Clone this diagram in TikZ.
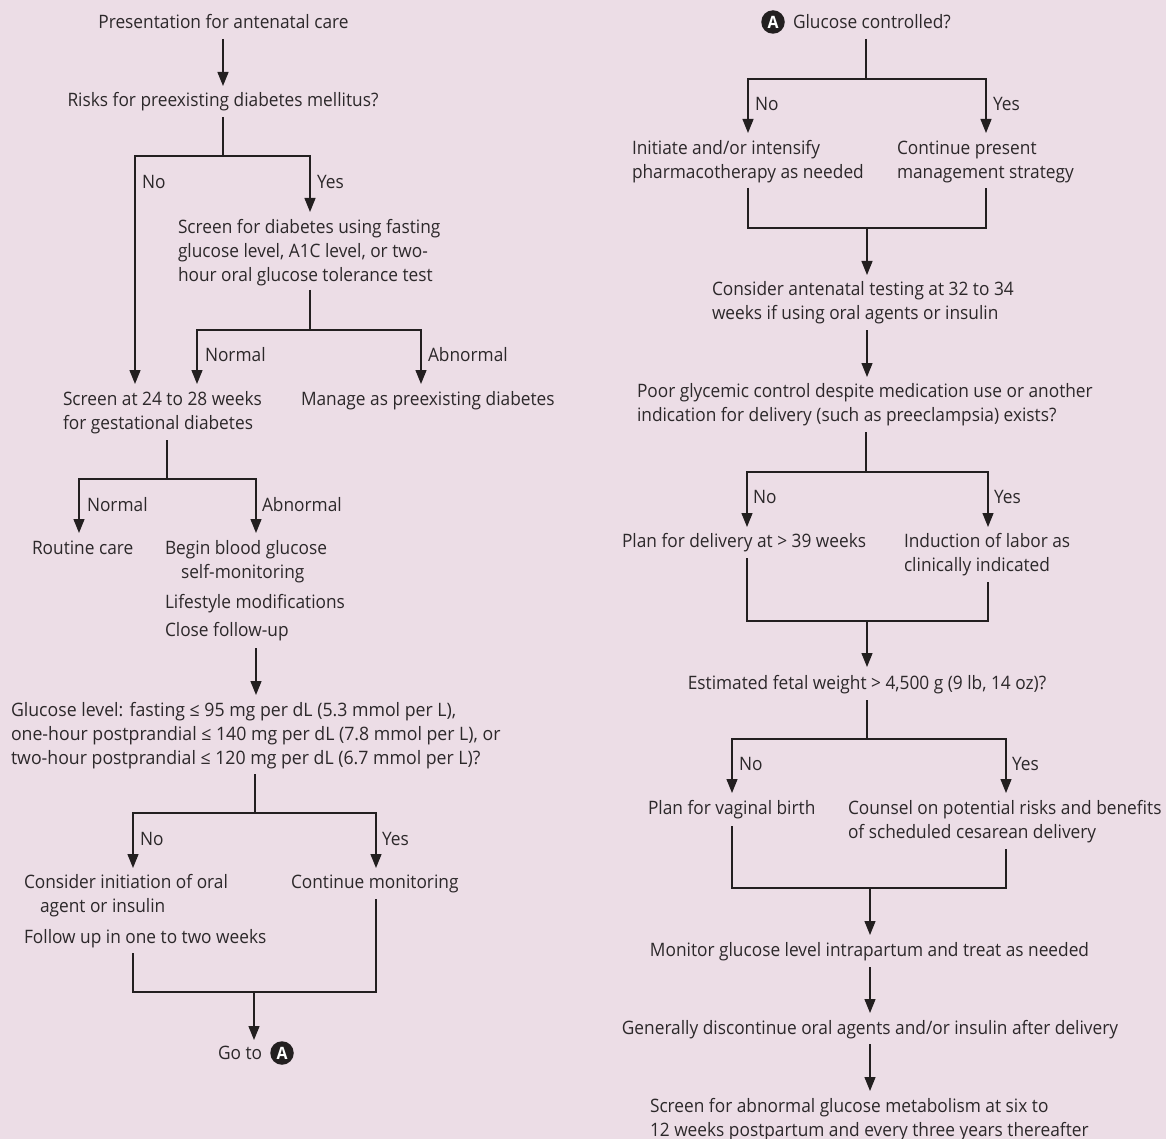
\documentclass[tikz,border=0pt]{standalone}
\usepackage{fontspec}
\setmainfont[FakeStretch=0.935]{Open Sans}
\newfontfamily\widefont[FakeStretch=0.957]{Open Sans}
\usetikzlibrary{arrows.meta}
\definecolor{bgc}{RGB}{236,221,230}
\definecolor{txc}{RGB}{44,40,42}
\definecolor{lnc}{RGB}{35,31,32}
\tikzset{
  txt/.style={inner sep=0pt, outer sep=0pt, text=txc, align=left,
              font=\fontsize{18.5}{24}\selectfont},
  ln/.style={draw=lnc, line width=1.3pt},
  arr/.style={ln, -{Triangle[length=14pt,width=11pt]}},
  twoarr/.style={ln, {Triangle[length=14pt,width=11pt]}-{Triangle[length=14pt,width=11pt]}},
  circA/.style={circle, fill=lnc, text=white, inner sep=0pt, minimum size=23.5pt,
                font=\fontsize{17}{17}\selectfont\bfseries}
}
\begin{document}
\begin{tikzpicture}[x=1pt,y=-1pt]
\fill[bgc] (0,0) rectangle (1166,1139);
\useasboundingbox (0,0) rectangle (1166,1139);

% ---------------- LEFT COLUMN ----------------
\node[txt, anchor=base] (t1) at (223.5,28.6) {Presentation for antenatal care};
\node[txt, anchor=base] (t2) at (223,106.6) {Risks for preexisting diabetes mellitus?};
\node[txt, anchor=base west] (lno1) at (142,188.6) {No};
\node[txt, anchor=base west] (lyes1) at (317,188.6) {Yes};
\node[txt, anchor=north west] (t3) at (178,219.5)
  {Screen for diabetes using fasting\\glucose level, A1C level, or two-\\hour oral glucose tolerance test};
\node[txt, anchor=base west] (lnor2) at (205,361.6) {Normal};
\node[txt, anchor=base west] (labn2) at (428,361.6) {Abnormal};
\node[txt, anchor=north west] (t4) at (63,391.5) {Screen at 24 to 28 weeks\\for gestational diabetes};
\node[txt, anchor=base west] (t5) at (301,405.6) {Manage as preexisting diabetes};
\node[txt, anchor=base west] (lnor3) at (87,511.6) {Normal};
\node[txt, anchor=base west] (labn3) at (262,511.6) {Abnormal};
\node[txt, anchor=base west] (t6) at (32,554.6) {Routine care};
\node[txt, anchor=north west] (t7) at (165,540.5)
  {Begin blood glucose\\\hspace*{16pt}self-monitoring\\[6pt]Lifestyle modifications\\[4pt]Close follow-up};
\node[txt, anchor=north west, font=\widefont\fontsize{18.5}{24}\selectfont] (t8) at (11,702.5)
  {Glucose level: fasting ≤ 95 mg per dL (5.3 mmol per L),\\one-hour postprandial ≤ 140 mg per dL (7.8 mmol per L), or\\two-hour postprandial ≤ 120 mg per dL (6.7 mmol per L)?};
\node[txt, anchor=base west] (lno4) at (140,845.6) {No};
\node[txt, anchor=base west] (lyes4) at (382,845.6) {Yes};
\node[txt, anchor=north west] (t9) at (24,874.5)
  {Consider initiation of oral\\\hspace*{16pt}agent or insulin\\[7pt]Follow up in one to two weeks};
\node[txt, anchor=base west] (t10) at (291,888.6) {Continue monitoring};
\node[txt, anchor=base west] (t11) at (218,1059.6) {Go to};
\node[circA] (goA) at (282,1053) {A};

% connectors left
\coordinate (a1s) at (223,39);   \coordinate (a1e) at (223,86);
\draw[arr] (a1s) -- (a1e);
\coordinate (b1s) at (223,117);  \coordinate (b1m) at (223,156);
\coordinate (b1lc) at (135,156); \coordinate (b1lt) at (135,384);
\coordinate (b1rc) at (310,156); \coordinate (b1rt) at (310,212);
\draw[ln] (b1s) -- (b1m);
\draw[twoarr] (b1lt) -- (b1lc) -- (b1rc) -- (b1rt);
\coordinate (b2s) at (310,290);  \coordinate (b2m) at (310,330);
\coordinate (b2lc) at (197,330); \coordinate (b2lt) at (197,384);
\coordinate (b2rc) at (421,330); \coordinate (b2rt) at (421,384);
\draw[ln] (b2s) -- (b2m);
\draw[twoarr] (b2lt) -- (b2lc) -- (b2rc) -- (b2rt);
\coordinate (b3s) at (167,440);  \coordinate (b3m) at (167,479);
\coordinate (b3lc) at (79,479);  \coordinate (b3lt) at (79,533);
\coordinate (b3rc) at (256,479); \coordinate (b3rt) at (256,533);
\draw[ln] (b3s) -- (b3m);
\draw[twoarr] (b3lt) -- (b3lc) -- (b3rc) -- (b3rt);
\coordinate (a2s) at (256,648);  \coordinate (a2e) at (256,695);
\draw[arr] (a2s) -- (a2e);
\coordinate (b4s) at (255,774);  \coordinate (b4m) at (255,813);
\coordinate (b4lc) at (133,813); \coordinate (b4lt) at (133,868);
\coordinate (b4rc) at (376,813); \coordinate (b4rt) at (376,868);
\draw[ln] (b4s) -- (b4m);
\draw[twoarr] (b4lt) -- (b4lc) -- (b4rc) -- (b4rt);
\coordinate (m1l) at (133,953);  \coordinate (m1lc) at (133,992);
\coordinate (m1r) at (376,899);  \coordinate (m1rc) at (376,992);
\draw[ln] (m1l) -- (m1lc) -- (m1rc) -- (m1r);
\coordinate (a3s) at (254,992);  \coordinate (a3e) at (254,1040);
\draw[arr] (a3s) -- (a3e);

% ---------------- RIGHT COLUMN ----------------
\node[circA] (cA) at (773,22) {A};
\node[txt, anchor=base west] (t12) at (793,28.6) {Glucose controlled?};
\node[txt, anchor=base west] (lno6) at (755,110.6) {No};
\node[txt, anchor=base west] (lyes6) at (993,110.6) {Yes};
\node[txt, anchor=north west] (t13) at (632,140.5) {Initiate and/or intensify\\pharmacotherapy as needed};
\node[txt, anchor=north west] (t14) at (897,140.5) {Continue present\\management strategy};
\node[txt, anchor=north west] (t15) at (712,281.5)
  {Consider antenatal testing at 32 to 34\\weeks if using oral agents or insulin};
\node[txt, anchor=north west] (t16) at (637,383.5)
  {Poor glycemic control despite medication use or another\\indication for delivery (such as preeclampsia) exists?};
\node[txt, anchor=base west] (lno8) at (753,503.6) {No};
\node[txt, anchor=base west] (lyes8) at (994,503.6) {Yes};
\node[txt, anchor=base west] (t17) at (622,547.6) {Plan for delivery at > 39 weeks};
\node[txt, anchor=north west] (t18) at (904,533.5) {Induction of labor as\\clinically indicated};
\node[txt, anchor=base] (t19) at (867,689.6) {Estimated fetal weight > 4,500 g (9 lb, 14 oz)?};
\node[txt, anchor=base west] (lno10) at (739,770.6) {No};
\node[txt, anchor=base west] (lyes10) at (1012,770.6) {Yes};
\node[txt, anchor=base west] (t20) at (648,814.6) {Plan for vaginal birth};
\node[txt, anchor=north west] (t21) at (848,800.5)
  {Counsel on potential risks and benefits\\of scheduled cesarean delivery};
\node[txt, anchor=base] (t22) at (869.5,956.6) {Monitor glucose level intrapartum and treat as needed};
\node[txt, anchor=base] (t23) at (870,1034.6) {Generally discontinue oral agents and/or insulin after delivery};
\node[txt, anchor=north west] (t24) at (650,1098.5)
  {Screen for abnormal glucose metabolism at six to\\12 weeks postpartum and every three years thereafter};

% connectors right
\coordinate (c1s) at (866,39);   \coordinate (c1m) at (866,79);
\coordinate (c1lc) at (748,79);  \coordinate (c1lt) at (748,133);
\coordinate (c1rc) at (986,79);  \coordinate (c1rt) at (986,133);
\draw[ln] (c1s) -- (c1m);
\draw[twoarr] (c1lt) -- (c1lc) -- (c1rc) -- (c1rt);
\coordinate (n1l) at (748,188);  \coordinate (n1lc) at (748,228);
\coordinate (n1r) at (986,188);  \coordinate (n1rc) at (986,228);
\draw[ln] (n1l) -- (n1lc) -- (n1rc) -- (n1r);
\coordinate (d1s) at (867,228);  \coordinate (d1e) at (867,275);
\draw[arr] (d1s) -- (d1e);
\coordinate (d2s) at (867,330);  \coordinate (d2e) at (867,377);
\draw[arr] (d2s) -- (d2e);
\coordinate (c2s) at (866,432);  \coordinate (c2m) at (866,472);
\coordinate (c2lc) at (747,472); \coordinate (c2lt) at (747,527);
\coordinate (c2rc) at (988,472); \coordinate (c2rt) at (988,527);
\draw[ln] (c2s) -- (c2m);
\draw[twoarr] (c2lt) -- (c2lc) -- (c2rc) -- (c2rt);
\coordinate (n2l) at (747,558);  \coordinate (n2lc) at (747,621);
\coordinate (n2r) at (988,582);  \coordinate (n2rc) at (988,621);
\draw[ln] (n2l) -- (n2lc) -- (n2rc) -- (n2r);
\coordinate (d3s) at (867,621);  \coordinate (d3e) at (867,667);
\draw[arr] (d3s) -- (d3e);
\coordinate (c3s) at (867,700);  \coordinate (c3m) at (867,739);
\coordinate (c3lc) at (732,739); \coordinate (c3lt) at (732,793);
\coordinate (c3rc) at (1006,739);\coordinate (c3rt) at (1006,793);
\draw[ln] (c3s) -- (c3m);
\draw[twoarr] (c3lt) -- (c3lc) -- (c3rc) -- (c3rt);
\coordinate (n3l) at (732,826);  \coordinate (n3lc) at (732,888);
\coordinate (n3r) at (1006,849); \coordinate (n3rc) at (1006,888);
\draw[ln] (n3l) -- (n3lc) -- (n3rc) -- (n3r);
\coordinate (d4s) at (870,888);  \coordinate (d4e) at (870,935);
\draw[arr] (d4s) -- (d4e);
\coordinate (d5s) at (870,967);  \coordinate (d5e) at (870,1013);
\draw[arr] (d5s) -- (d5e);
\coordinate (d6s) at (870,1044); \coordinate (d6e) at (870,1091);
\draw[arr] (d6s) -- (d6e);
\end{tikzpicture}
\end{document}
